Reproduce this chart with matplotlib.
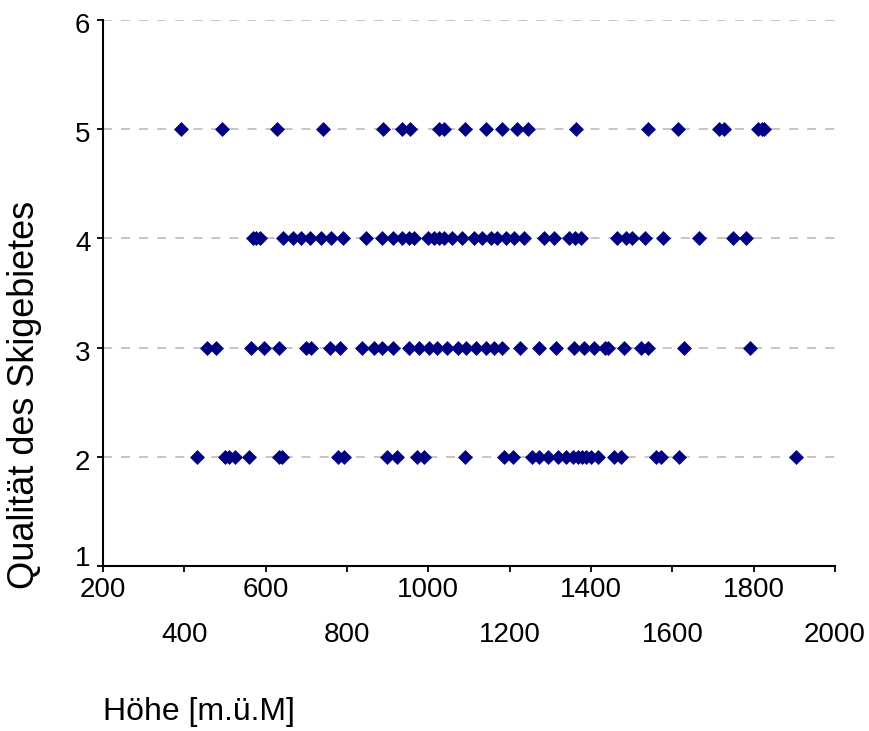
import matplotlib
matplotlib.use('Agg')
from matplotlib import pyplot as plt
from matplotlib.transforms import ScaledTranslation

plt.rcParams['font.family'] = ['Liberation Sans', 'DejaVu Sans']

# Hoehe der Skigebiete (m.ü.M) pro Qualitaetsstufe
hoehe_q5 = [393, 492, 629, 742, 889, 936, 955, 1026, 1039, 1090, 1141, 1180,
            1219, 1245, 1363, 1541, 1613, 1715, 1728, 1810, 1820, 1826]
hoehe_q4 = [568, 576, 585, 643, 666, 686, 709, 735, 760, 791, 846, 887, 912,
            936, 952, 965, 998, 1014, 1026, 1039, 1059, 1084, 1112, 1133, 1154,
            1170, 1190, 1211, 1235, 1284, 1309, 1346, 1360, 1375, 1465, 1486,
            1502, 1533, 1578, 1666, 1748, 1781]
hoehe_q3 = [456, 477, 565, 596, 633, 698, 712, 758, 784, 838, 866, 887, 912,
            952, 977, 1002, 1022, 1047, 1072, 1092, 1117, 1141, 1162, 1182,
            1226, 1272, 1313, 1358, 1383, 1408, 1434, 1441, 1480, 1523, 1541,
            1629, 1790]
hoehe_q2 = [432, 499, 510, 524, 560, 632, 641, 778, 793, 899, 922, 973, 989,
            1090, 1185, 1209, 1254, 1272, 1295, 1318, 1338, 1355, 1367, 1377,
            1387, 1400, 1418, 1457, 1473, 1560, 1572, 1617, 1904]

x_ticks_top = [200, 600, 1000, 1400, 1800]
x_ticks_bottom = [400, 800, 1200, 1600, 2000]
y_ticks = [1, 2, 3, 4, 5, 6]

hoehe = hoehe_q5 + hoehe_q4 + hoehe_q3 + hoehe_q2
qualitaet = [5]*len(hoehe_q5) + [4]*len(hoehe_q4) + [3]*len(hoehe_q3) + [2]*len(hoehe_q2)

fig = plt.figure(figsize=(8.69, 7.31), dpi=100)
ax = fig.add_axes([103/869, 1 - 566/731, 732/869, 546/731])

ax.scatter(hoehe, qualitaet, marker='D', s=58, color='#000080', zorder=3,
           linewidths=0, clip_on=False)

ax.set_xlim(200, 2000)
ax.set_ylim(1, 6)
ax.set_yticks(y_ticks)
ax.set_xticks(x_ticks_top)
ax.set_xticks(x_ticks_bottom, minor=True)
ax.set_xticklabels([str(v) for v in x_ticks_top])
ax.set_xticklabels([str(v) for v in x_ticks_bottom], minor=True)

ax.tick_params(axis='x', which='both', length=4, width=1.3, labelsize=20, direction='out')
ax.tick_params(axis='x', which='major', pad=4)
ax.tick_params(axis='x', which='minor', pad=36.5)
ax.tick_params(axis='y', length=4, width=1.3, labelsize=20, pad=5)

# y-Beschriftungen leicht nach unten, die "1" nach oben (wie in Excel)
for i, lab in enumerate(ax.get_yticklabels()):
    dy = 10 if i == 0 else -3
    lab.set_transform(lab.get_transform() + ScaledTranslation(0, dy/100, fig.dpi_scale_trans))

for y in y_ticks[1:]:
    ax.axhline(y, color='#c0c0c0', lw=1.3, dashes=(5, 5), zorder=1)

for side in ['top', 'right']:
    ax.spines[side].set_visible(False)
for side in ['left', 'bottom']:
    ax.spines[side].set_linewidth(1.5)

ax.set_ylabel('Qualität des Skigebietes', fontsize=26)
ax.yaxis.set_label_coords(-0.083, 0.313)

fig.text(103/869, 1 - 697/731, 'Höhe [m.ü.M]', fontsize=23, ha='left', va='top')

fig.savefig('out.png', dpi=100)
